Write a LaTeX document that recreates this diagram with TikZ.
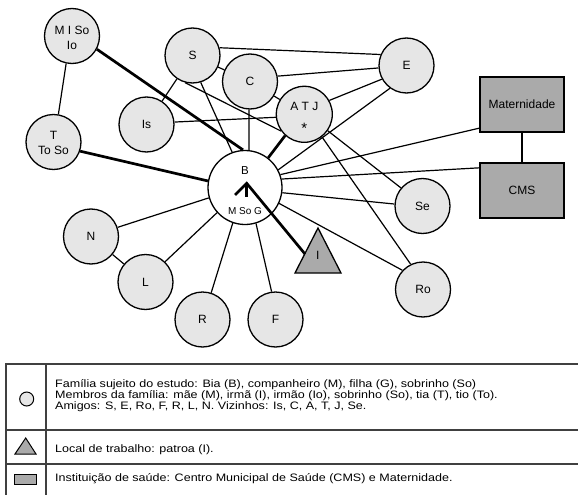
\documentclass[tikz,border=0pt]{standalone}
\usepackage{fontspec}
\setmainfont{Liberation Sans}
\newfontfamily\legfont[FakeStretch=1.16]{Liberation Sans}
\usetikzlibrary{backgrounds}
\definecolor{circfill}{HTML}{E6E6E6}
\definecolor{boxfill}{HTML}{AAAAAA}
\definecolor{legline}{HTML}{404040}
\tikzset{
  pers/.style={circle, draw, line width=1.3pt, fill=circfill, minimum size=55pt, inner sep=0pt, font=\fontsize{12}{14}\selectfont},
  inst/.style={rectangle, draw, line width=1.3pt, fill=boxfill, minimum width=84pt, minimum height=55pt, inner sep=0pt, font=\fontsize{12}{14}\selectfont},
  tie/.style={line width=1.2pt},
  strong/.style={line width=2.7pt},
  txt/.style={inner sep=0pt, anchor=base, font=\fontsize{12}{14}\selectfont},
  leg/.style={inner sep=0pt, anchor=base west, font=\legfont\fontsize{10.8}{12}\selectfont},
  legrule/.style={legline, line width=1.3pt}
}
\begin{document}
\begin{tikzpicture}[x=1pt,y=-1pt]
\useasboundingbox (0,0) rectangle (578,495);
% persons
\node[pers] (MISo) at (72,36) {};
\node[txt] (MISo1) at (72,35) {M I So};
\node[txt] (MISo2) at (72,49) {Io};
\node[pers] (T) at (53.5,142) {};
\node[txt] (T1) at (53.5,139.6) {T};
\node[txt] (T2) at (53.5,154.3) {To So};
\node[pers] (S) at (192.5,55.5) {S};
\node[pers] (C) at (250,81.5) {C};
\node[pers] (Is) at (146.5,124.5) {Is};
\node[pers, minimum size=56pt] (ATJ) at (304.3,114.3) {};
\node[txt] (ATJ1) at (304.3,110.3) {A T J};
\node[txt, font=\fontsize{15}{16}\selectfont] (ATJ2) at (304.3,133) {*};
\node[pers] (E) at (406.5,65.5) {E};
\node[pers] (Se) at (422.5,206) {Se};
\node[pers] (Ro) at (423,289.5) {Ro};
\node[pers] (N) at (91,236.5) {N};
\node[pers] (L) at (145.5,282) {L};
\node[pers] (R) at (202.5,319.5) {R};
\node[pers] (F) at (275.5,319.5) {F};
\node[pers, fill=white, minimum size=74pt] (B) at (245,187.5) {};
\node[txt, font=\fontsize{11.5}{13}\selectfont] (B1) at (245,174) {B};
\node[txt, font=\fontsize{10}{12}\selectfont] (B2) at (245,214.6) {M So G};
\node[inst] (Mat) at (522,104.5) {Maternidade};
\node[inst] (CMS) at (522,190.5) {CMS};
% workplace
\draw[fill=boxfill, line width=1.3pt] (318,228) -- (341,273) -- (295,273) -- cycle;
\node[txt] (I) at (317.7,259.3) {I};
\coordinate (Iin) at (305,254);
\coordinate (tip) at (246.7,183.3);
% connectors
\begin{scope}[on background layer]
\draw[tie] (MISo.258) -- (T.80);
\draw[strong] (MISo.332) -- (B.93);
\draw[strong] (T.341) -- (B.170);
\draw[tie] (S.16) -- (E.157);
\draw[tie] (S) -- (C);
\draw[tie] (S) -- (Is);
\draw[tie] (S.287) -- (B.110);
\draw[tie] (S.255) -- (ATJ.216);
\draw[tie] (C.11) -- (E.185);
\draw[tie] (C) -- (ATJ);
\draw[tie] (C.268) -- (B.84);
\draw[tie] (Is.5) -- (ATJ.186);
\draw[tie] (ATJ.29) -- (E.209);
\draw[strong] (ATJ.228) -- (B.52);
\draw[tie] (ATJ.325) -- (Se.140);
\draw[tie] (ATJ.308) -- (Ro.116);
\draw[tie] (E.234) -- (B.28);
\draw[tie] (Mat.209) -- (B.20);
\draw[tie] (CMS.152) -- (B.13);
\draw[tie] (Se.176) -- (B.352);
\draw[tie] (Ro.137) -- (B.335);
\draw[tie] (Mat) -- (CMS);
\draw[tie] (N.19) -- (B.196);
\draw[tie] (L.46) -- (B.222);
\draw[tie] (N) -- (L);
\draw[tie] (R.72) -- (B.251);
\draw[tie] (F.98) -- (B.287);
\end{scope}
\draw[strong] (Iin) -- (tip) -- ++(-11.7,11.7);
\draw[strong] (tip) -- ++(0,13.4);
% legend
\draw[legrule] (6,495) -- (6,364) -- (578,364);
\draw[legrule] (46,364) -- (46,495);
\draw[legrule] (6,430) -- (578,430);
\draw[legrule] (6,464) -- (578,464);
\node[circle, draw, fill=circfill, minimum size=14pt, inner sep=0pt, line width=1pt] (legC) at (26.7,399) {};
\draw[fill=boxfill, line width=1pt] (25.7,438) -- (36,454) -- (15,454) -- cycle;
\draw[fill=boxfill, line width=1pt] (14,474) rectangle (36.7,484);
\node[leg] (leg1) at (55,387) {Família sujeito do estudo: Bia (B), companheiro (M), filha (G), sobrinho (So)};
\node[leg] (leg2) at (55,398.2) {Membros da família: mãe (M), irmã (I), irmão (Io), sobrinho (So), tia (T), tio (To).};
\node[leg] (leg3) at (55,409.2) {Amigos: S, E, Ro, F, R, L, N. Vizinhos: Is, C, A, T, J, Se.};
\node[leg] (leg4) at (55,452) {Local de trabalho: patroa (I).};
\node[leg] (leg5) at (55,481.5) {Instituição de saúde: Centro Municipal de Saúde (CMS) e Maternidade.};
\end{tikzpicture}
\end{document}
